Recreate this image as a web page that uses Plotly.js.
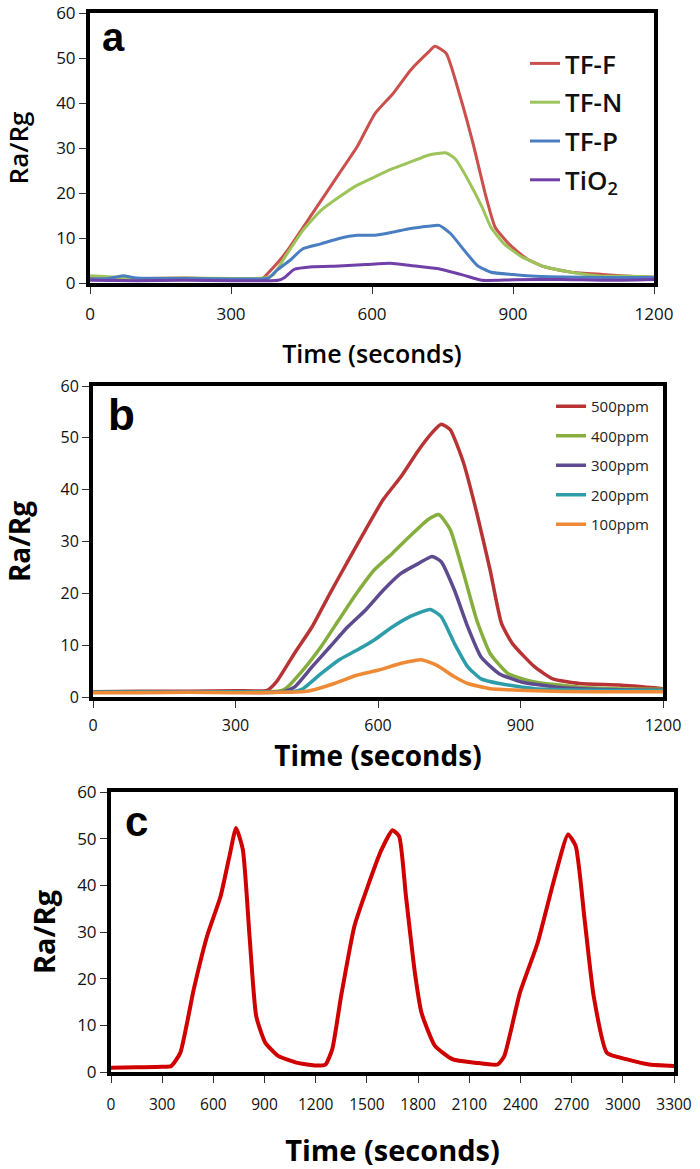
<!DOCTYPE html>
<html>
<head>
<meta charset="utf-8">
<script src="https://cdn.plot.ly/plotly-3.0.1.min.js"></script>
<style>html,body{margin:0;padding:0;background:#fff;}#chart{width:700px;height:1169px;}</style>
</head>
<body>
<div id="chart"></div>
<script>
// ---------- Panel a ----------
const aTfF_t = [0, 60, 120, 200, 280, 340, 368, 377, 415, 473, 530, 568, 606, 644, 682, 720, 734, 758, 786, 815, 843, 862, 891, 929, 967, 1024, 1091, 1150, 1200];
const aTfF_y = [1.1, 1.0, 1.0, 1.1, 0.9, 1.0, 1.1, 2.0, 6.5, 15.4, 24.3, 30.2, 37.6, 42.0, 47.3, 51.3, 52.6, 51.0, 42.0, 31.0, 19.0, 12.4, 8.7, 5.4, 3.6, 2.4, 1.9, 1.5, 1.3];
const aTfN_t = [0, 40, 100, 200, 300, 370, 390, 415, 453, 491, 530, 568, 606, 644, 682, 720, 758, 777, 805, 834, 853, 881, 919, 967, 1024, 1091, 1150, 1200];
const aTfN_y = [1.6, 1.4, 1.0, 1.1, 1.0, 1.1, 1.8, 5.8, 11.7, 16.1, 19.1, 21.7, 23.6, 25.4, 26.9, 28.4, 28.9, 27.6, 22.8, 16.9, 12.4, 8.7, 5.8, 3.6, 2.4, 1.5, 1.5, 1.3];
const aTfP_t = [0, 40, 70, 100, 200, 300, 380, 397, 425, 453, 491, 530, 568, 606, 644, 682, 720, 743, 767, 796, 824, 853, 900, 948, 1050, 1150, 1200];
const aTfP_y = [0.9, 1.0, 1.6, 1.1, 1.0, 0.9, 1.1, 2.8, 5.0, 7.6, 8.7, 9.9, 10.6, 10.6, 11.3, 12.1, 12.6, 12.8, 11.0, 7.3, 3.9, 2.4, 1.9, 1.5, 1.3, 1.2, 1.2];
const aTiO2_t = [0, 100, 200, 300, 400, 415, 434, 473, 530, 587, 639, 682, 739, 796, 834, 900, 1000, 1100, 1200];
const aTiO2_y = [0.6, 0.5, 0.6, 0.5, 0.6, 1.3, 3.0, 3.6, 3.8, 4.1, 4.4, 3.9, 3.2, 1.7, 0.6, 0.7, 0.8, 0.6, 0.8];

// ---------- Panel b ----------
const b500_t = [0, 100, 200, 300, 367, 386, 424, 461, 499, 536, 574, 611, 649, 686, 714, 733, 752, 780, 808, 836, 860, 883, 930, 968, 1024, 1108, 1200];
const b500_y = [1.0, 1.1, 1.1, 1.2, 1.3, 2.9, 8.4, 13.5, 20.0, 26.1, 32.3, 38.1, 42.6, 47.7, 51.0, 52.6, 51.6, 45.2, 35.5, 24.5, 14.2, 10.3, 5.8, 3.5, 2.6, 2.3, 1.6];
const b400_t = [0, 100, 200, 300, 390, 405, 442, 480, 517, 555, 592, 630, 667, 705, 728, 752, 780, 808, 836, 874, 930, 1024, 1100, 1200];
const b400_y = [0.9, 1.0, 1.0, 1.0, 1.1, 1.6, 5.2, 9.7, 14.8, 20.0, 24.5, 27.7, 31.0, 34.2, 35.2, 32.3, 23.9, 14.8, 8.4, 4.5, 2.9, 1.9, 1.6, 1.5];
const b300_t = [0, 100, 200, 300, 400, 424, 461, 499, 536, 574, 611, 649, 686, 714, 733, 761, 789, 817, 855, 902, 977, 1100, 1200];
const b300_y = [0.9, 0.9, 1.0, 0.9, 1.0, 1.9, 5.8, 9.7, 13.5, 16.8, 20.6, 23.9, 25.8, 27.1, 26.1, 20.6, 13.5, 7.7, 4.5, 2.9, 1.9, 1.4, 1.3];
const b200_t = [0, 100, 200, 300, 420, 442, 480, 517, 555, 592, 630, 667, 710, 733, 761, 789, 817, 855, 930, 1050, 1200];
const b200_y = [0.9, 0.9, 0.9, 1.0, 1.0, 1.6, 4.5, 7.1, 9.0, 11.0, 13.5, 15.5, 16.9, 15.5, 10.3, 5.8, 3.5, 2.6, 1.6, 1.3, 1.2];
const b100_t = [0, 100, 200, 300, 400, 440, 461, 508, 555, 602, 649, 691, 724, 761, 789, 836, 930, 1050, 1200];
const b100_y = [0.8, 0.8, 0.9, 0.8, 0.9, 1.0, 1.3, 2.6, 4.2, 5.2, 6.5, 7.2, 6.1, 3.9, 2.6, 1.6, 1.2, 1.0, 1.0];

// ---------- Panel c ----------
const c_t = [0, 150, 300, 354, 406, 485, 563, 642, 694, 733, 773, 812, 851, 904, 982, 1087, 1192, 1257, 1297, 1349, 1427, 1506, 1585, 1650, 1689, 1729, 1781, 1820, 1899, 2004, 2135, 2266, 2305, 2397, 2501, 2593, 2679, 2724, 2776, 2829, 2907, 3025, 3156, 3300];
const c_y = [0.9, 1.0, 1.1, 1.3, 4.1, 17.7, 29.1, 37.6, 46.2, 52.3, 47.6, 29.1, 12.0, 6.3, 3.4, 2.0, 1.4, 1.6, 4.9, 16.3, 31.3, 39.9, 47.6, 51.8, 50.5, 37.6, 21.3, 12.7, 5.6, 2.7, 2.0, 1.6, 3.4, 17.0, 27.7, 40.6, 50.9, 48.4, 32.7, 16.3, 4.1, 2.7, 1.6, 1.3];

const aNames = ['TF-F', 'TF-N', 'TF-P', 'TiO<sub>2</sub>'];
const bNames = ['500ppm', '400ppm', '300ppm', '200ppm', '100ppm'];
const xTicksA = [0, 300, 600, 900, 1200];
const xTicksC = [0, 300, 600, 900, 1200, 1500, 1800, 2100, 2400, 2700, 3000, 3300];
const yTicks = [0, 10, 20, 30, 40, 50, 60];

const W = 700, H = 1169;
const px = v => v / W;
const py = v => 1 - v / H;

const aColors = ['#C9504D', '#9DC45A', '#4A7EC0', '#7040A8'];
const bColors = ['#B83434', '#86AE3E', '#5E4A8E', '#2E9DAA', '#EE8A36'];

const traces = [];
const aT = [aTfF_t, aTfN_t, aTfP_t, aTiO2_t], aY = [aTfF_y, aTfN_y, aTfP_y, aTiO2_y];
aT.forEach((t, i) => traces.push({x: t, y: aY[i], name: aNames[i], type: 'scatter', mode: 'lines',
  line: {color: aColors[i], width: 3, shape: 'spline', smoothing: 0.5}, xaxis: 'x', yaxis: 'y', legend: 'legend', legendgroup: 'a' + i}));
const bT = [b500_t, b400_t, b300_t, b200_t, b100_t], bY = [b500_y, b400_y, b300_y, b200_y, b100_y];
bT.forEach((t, i) => traces.push({x: t, y: bY[i], name: bNames[i], type: 'scatter', mode: 'lines',
  line: {color: bColors[i], width: 3.5, shape: 'spline', smoothing: 0.5}, xaxis: 'x2', yaxis: 'y2', legend: 'legend2', legendgroup: 'b' + i}));
traces.push({x: c_t, y: c_y, name: 'c', type: 'scatter', mode: 'lines', showlegend: false,
  line: {color: '#D00000', width: 4, shape: 'spline', smoothing: 0.5}, xaxis: 'x3', yaxis: 'y3'});

const FONT = 'Open Sans, sans-serif';
function xax(dom, anchor, ticks, range, tsize, lstand, title, tfsize, tweight, standoff) {
  return {domain: dom, anchor: anchor, range: range, tickvals: ticks, ticktext: ticks.map(String),
    showgrid: false, zeroline: false, showline: true, mirror: true, linewidth: 4, linecolor: '#000',
    ticks: 'outside', ticklen: 7, tickwidth: 1, tickcolor: '#333', automargin: false, ticklabelstandoff: lstand,
    tickfont: {family: FONT, size: tsize, color: '#111'},
    title: {text: title, font: {family: FONT, size: tfsize, color: '#000', weight: tweight}, standoff: standoff}};
}
function yax(dom, anchor, tsize, tfsize, tweight, standoff) {
  return {domain: dom, anchor: anchor, range: [0, 60], tickvals: yTicks, ticktext: yTicks.map(String),
    showgrid: false, zeroline: false, showline: true, mirror: true, linewidth: 4, linecolor: '#000',
    ticks: 'outside', ticklen: 7, tickwidth: 1, tickcolor: '#333', automargin: false,
    tickfont: {family: FONT, size: tsize, color: '#111'},
    title: {text: 'Ra/Rg', font: {family: FONT, size: tfsize, color: '#000', weight: tweight}, standoff: standoff}};
}

const layout = {
  width: W, height: H, margin: {l: 0, r: 0, t: 0, b: 0}, paper_bgcolor: '#fff', plot_bgcolor: '#fff',
  showlegend: true,
  xaxis: xax([px(90), px(654)], 'y', xTicksA, [0, 1200], 17, 6, 'Time (seconds)', 25, 600, 22),
  yaxis: yax([py(283), py(13)], 'x', 17, 26, 600, 24),
  xaxis2: xax([px(93), px(663)], 'y2', xTicksA, [0, 1200], 16, 4, 'Time (seconds)', 28, 700, 7),
  yaxis2: yax([py(697), py(386)], 'x2', 16, 28, 700, 23),
  xaxis3: xax([px(111), px(674)], 'y3', xTicksC, [0, 3300], 15.5, 8, 'Time (seconds)', 29, 700, 46),
  yaxis3: yax([py(1072), py(792)], 'x3', 17, 29, 700, 14),
  legend: {x: px(525), y: py(40), xanchor: 'left', yanchor: 'top', bgcolor: 'rgba(0,0,0,0)',
    font: {family: FONT, size: 26, color: '#111', weight: 600}, traceorder: 'grouped', tracegroupgap: 2, itemwidth: 30},
  legend2: {x: px(551), y: py(390), xanchor: 'left', yanchor: 'top', bgcolor: 'rgba(0,0,0,0)',
    font: {family: FONT, size: 15, color: '#222'}, traceorder: 'grouped', tracegroupgap: 7, itemwidth: 30},
  annotations: [
    {text: '<b>a</b>', xref: 'paper', yref: 'paper', x: px(100), y: py(37), xanchor: 'left', yanchor: 'middle', showarrow: false,
      font: {family: 'Liberation Sans, Arial, sans-serif', size: 40, color: '#000'}},
    {text: '<b>b</b>', xref: 'paper', yref: 'paper', x: px(106), y: py(415), xanchor: 'left', yanchor: 'middle', showarrow: false,
      font: {family: 'Liberation Sans, Arial, sans-serif', size: 44, color: '#000'}},
    {text: '<b>c</b>', xref: 'paper', yref: 'paper', x: px(123), y: py(821), xanchor: 'left', yanchor: 'middle', showarrow: false,
      font: {family: 'Liberation Sans, Arial, sans-serif', size: 42, color: '#000'}}
  ]
};

Plotly.newPlot('chart', traces, layout, {staticPlot: true, displayModeBar: false});
</script>
</body>
</html>
